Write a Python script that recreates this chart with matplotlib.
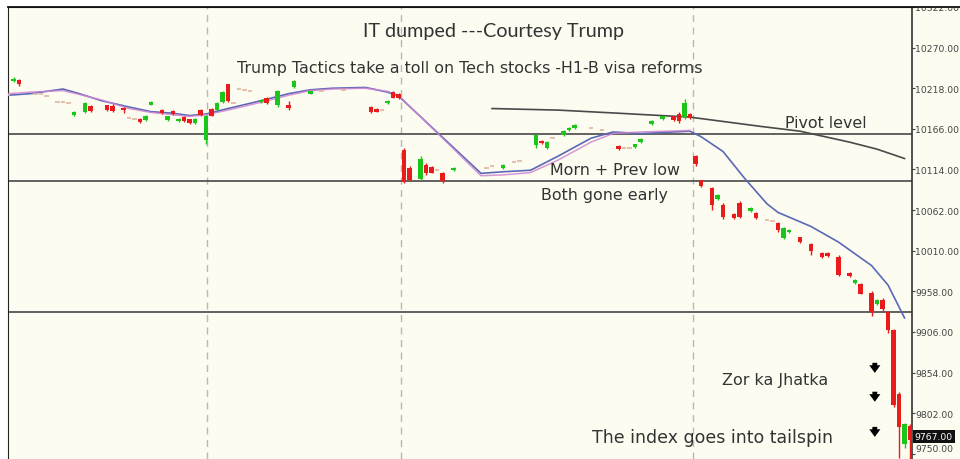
import matplotlib
matplotlib.use("Agg")
import matplotlib.pyplot as plt
from matplotlib.patches import Rectangle
from matplotlib.lines import Line2D
from matplotlib.transforms import ScaledTranslation, blended_transform_factory

# ---- 5-minute bars (bar index along the session axis) ----
bar_idx = [1, 2, 12, 14, 15, 18, 19, 21, 24, 25, 26, 28, 29, 30, 31, 32, 33, 34, 35,
           36, 37, 38, 39, 40, 46, 47, 49, 51, 52, 55, 66, 67, 69, 70, 71,
           72, 73, 75, 76, 77, 79, 81, 90, 96, 97, 98, 101, 102, 103, 111, 114, 115,
           117, 119, 121, 122, 123, 124,
           125, 126, 128, 129, 130, 132, 133, 135, 136, 140, 141, 142, 144, 146, 148,
           149, 151, 153, 154, 155, 157, 158, 159, 160, 161, 162, 163, 164]
opens = [10227, 10228, 10184, 10187, 10195, 10196, 10195, 10193, 10179, 10177, 10197,
         10190, 10177, 10189, 10176, 10181, 10178, 10174, 10190,
         10152, 10192, 10190, 10200, 10223, 10200, 10206, 10196, 10197, 10219, 10211,
         10194, 10192, 10199, 10213, 10211,
         10139, 10116, 10102, 10120, 10117, 10109, 10113, 10116, 10145, 10151, 10141,
         10158, 10164, 10167, 10144, 10143, 10149,
         10172, 10178, 10182, 10185, 10181, 10185,
         10131, 10100, 10090, 10076, 10069, 10057, 10071, 10061, 10058, 10046, 10026,
         10034, 10027, 10019, 10007,
         10007, 10002, 9982, 9968, 9967, 9956, 9942, 9947, 9932, 9909, 9826, 9762, 9786]
highs = [10232, 10230, 10189, 10201, 10197, 10197, 10198, 10194, 10180, 10184, 10202,
         10191, 10183, 10190, 10180, 10182, 10179, 10180, 10191,
         10184, 10193, 10200, 10214, 10224, 10204, 10207, 10216, 10202, 10229, 10215,
         10195, 10193, 10203, 10214, 10212,
         10141, 10118, 10131, 10122, 10118, 10111, 10117, 10121, 10160, 10152, 10150,
         10164, 10168, 10172, 10145, 10147, 10154,
         10177, 10183, 10183, 10187, 10204, 10186,
         10133, 10101, 10092, 10082, 10071, 10058, 10073, 10066, 10059, 10047, 10040,
         10038, 10028, 10020, 10008,
         10008, 10004, 9983, 9974, 9968, 9958, 9948, 9949, 9933, 9910, 9829, 9790, 9788]
lows = [10226, 10221, 10182, 10186, 10187, 10189, 10188, 10186, 10174, 10176, 10196,
        10185, 10176, 10184, 10175, 10175, 10172, 10172, 10183,
        10146, 10182, 10189, 10199, 10200, 10199, 10198, 10194, 10190, 10218, 10210,
        10186, 10187, 10198, 10205, 10204,
        10097, 10099, 10100, 10107, 10109, 10097, 10112, 10115, 10142, 10147, 10140,
        10157, 10163, 10166, 10139, 10142, 10148,
        10171, 10177, 10176, 10174, 10179, 10179,
        10119, 10092, 10062, 10075, 10050, 10051, 10052, 10060, 10051, 10034, 10025,
        10033, 10020, 10005, 10001,
        10002, 9977, 9976, 9967, 9954, 9927, 9941, 9933, 9905, 9810, 9745, 9758, 9740]
closes = [10230, 10223, 10188, 10199, 10189, 10190, 10189, 10190, 10175, 10182, 10200,
          10186, 10182, 10185, 10179, 10176, 10174, 10179, 10184,
          10182, 10183, 10199, 10213, 10202, 10203, 10199, 10215, 10193, 10227, 10214,
          10187, 10188, 10202, 10206, 10205,
          10098, 10100, 10128, 10109, 10110, 10099, 10116, 10120, 10158, 10148, 10149,
          10163, 10167, 10171, 10140, 10146, 10153,
          10176, 10182, 10177, 10176, 10199, 10180,
          10121, 10093, 10069, 10081, 10053, 10052, 10053, 10065, 10052, 10037, 10039,
          10037, 10021, 10010, 10002,
          10003, 9979, 9977, 9973, 9955, 9931, 9947, 9935, 9909, 9813, 9784, 9788, 9767]

# flat bars (open == close)
doji_idx = [0, 5, 6, 7, 9, 10, 11, 22, 23, 41, 42, 43, 44, 57, 61, 68, 78,
            87, 88, 92, 93, 99, 106, 108, 112, 113, 138, 139]
doji_px = [10209, 10211, 10210, 10208, 10201, 10200, 10199, 10180, 10178, 10199,
           10217, 10216, 10215, 10214, 10216, 10190, 10113,
           10116, 10118, 10123, 10125, 10154, 10167, 10165, 10141, 10142, 10049, 10048]

# moving averages
slow_idx = [0, 4, 10, 13, 17, 22, 26, 30, 33, 36, 40, 46, 51, 55, 59, 65, 69, 71,
            86, 90, 95, 100, 106, 110, 115, 124, 126, 130, 134, 138, 140, 146, 151,
            157, 160, 163]
slow_ma = [10209, 10211, 10217, 10211, 10202, 10194, 10188, 10186, 10183, 10185,
           10192, 10202, 10211, 10216, 10218, 10219, 10213, 10208,
           10109, 10111, 10113, 10131, 10154, 10162, 10160, 10163, 10156, 10137,
           10102, 10070, 10059, 10041, 10021, 9991, 9966, 9924]
fast_idx = [0, 4, 10, 13, 17, 22, 26, 30, 33, 36, 40, 46, 51, 55, 59, 65, 69, 71,
            86, 90, 95, 100, 106, 110, 115, 124]
fast_ma = [10211, 10213, 10215, 10210, 10203, 10192, 10187, 10184, 10182, 10184,
           10190, 10200, 10209, 10215, 10217, 10218, 10214, 10209,
           10106, 10107, 10110, 10126, 10149, 10160, 10162, 10164]

# long trend line
trend_idx = [88, 100, 111, 124, 137, 144, 153, 158, 163]
trend_val = [10192, 10190, 10186, 10181, 10169, 10163, 10149, 10140, 10128]

levels = [10160, 10099, 9932]
session_breaks = [36.2, 71.5, 124.5]
price_ticks = [9750, 9802, 9854, 9906, 9958, 10010, 10062, 10114, 10166, 10218, 10270, 10322]

# ---- figure ----
W, H = 960, 460
fig = plt.figure(figsize=(W / 100, H / 100), dpi=100, facecolor="white")
bg = "#fcfcf1"
fig.patches.append(Rectangle((912 / W, 0), 48 / W, 452 / H, transform=fig.transFigure,
                             facecolor=bg, edgecolor="none", zorder=-5))
ax = fig.add_axes([8 / W, 0, 904 / W, 452 / H])
ax.set_facecolor(bg)
ax.set_xlim(0, 164.36)
ax.set_ylim(9743.3, 10319.7)

up_col, dn_col = "#19c619", "#ea1b1b"

for sb in session_breaks:
    ax.axvline(sb, color="#b9b9b0", lw=1.0, ls=(0, (5, 4)), zorder=1)
for lv in levels:
    ax.axhline(lv, color="#555555", lw=1.3, zorder=2)

ax.plot(trend_idx, trend_val, color="#4a4a4a", lw=1.2, zorder=3)
ax.plot(slow_idx, slow_ma, color="#5b68b8", lw=1.2, zorder=3)
ax.plot(fast_idx, fast_ma, color="#cf86cf", lw=1.1, alpha=0.85, zorder=3)

ax.hlines(doji_px, [i - 0.45 for i in doji_idx], [i + 0.45 for i in doji_idx],
          color="#e0b4a2", lw=1.2, zorder=4)

cols = [up_col if c >= o else dn_col for o, c in zip(opens, closes)]
ax.vlines(bar_idx, lows, highs, color=cols, lw=1.0, zorder=4)
bottoms = [min(o, c) for o, c in zip(opens, closes)]
heights = [max(abs(c - o), 2.0) for o, c in zip(opens, closes)]
ax.bar(bar_idx, heights, bottom=bottoms, width=0.8, color=cols, linewidth=0, zorder=5)

# ---- axes styling ----
ax.spines["bottom"].set_visible(False)
ax.spines["left"].set_color("#222222")
ax.spines["top"].set_color("#222222")
ax.spines["right"].set_color("#333333")
ax.spines["right"].set_linewidth(1.2)
ax.set_xticks([])
ax.yaxis.tick_right()
ax.set_yticks(price_ticks)
ax.set_yticklabels([f"{p:.2f}" for p in price_ticks])
ax.tick_params(axis="y", direction="out", length=2, width=0.8, color="#444444",
               labelsize=6.7, labelcolor="#444444", pad=0.5)
for lab in ax.get_yticklabels():
    if lab.get_text() == "9750.00":
        lab.set_transform(lab.get_transform() + ScaledTranslation(0, 6 / 100, fig.dpi_scale_trans))

# last price tag
last = closes[-1]
trans = blended_transform_factory(ax.transAxes, ax.transData)
ax.text(1.003, last, f"{last:.2f}", transform=trans + ScaledTranslation(0, 4 / 100, fig.dpi_scale_trans),
        ha="left", va="center", fontsize=6.7, color="white", clip_on=False, zorder=10,
        bbox=dict(boxstyle="square,pad=0.2", facecolor="#111111", edgecolor="none"))

# ---- annotations ----
txt = "#333333"
note = 11.4
ax.text(88.2, 10292, "IT dumped ---Courtesy Trump", ha="center", va="center",
        fontsize=14.2, family="Lato", color=txt)
ax.text(84, 10244, "Trump Tactics take a toll on Tech stocks -H1-B visa reforms",
        ha="center", va="center", fontsize=note, color=txt)
ax.text(148.7, 10174, "Pivot level", ha="center", va="center", fontsize=note, color=txt)
ax.text(110.4, 10114, "Morn + Prev low", ha="center", va="center", fontsize=note, color=txt)
ax.text(108.5, 10082, "Both gone early", ha="center", va="center", fontsize=note, color=txt)
ax.text(139.5, 9845, "Zor ka Jhatka", ha="center", va="center", fontsize=note, color=txt)
ax.text(128, 9772, "The index goes into tailspin", ha="center", va="center",
        fontsize=12.5, color=txt)
for tail, tip in [(9870, 9850), (9833, 9813), (9788, 9768)]:
    ax.annotate("", xy=(157.6, tip), xytext=(157.6, tail),
                arrowprops=dict(arrowstyle="simple,head_width=0.8,head_length=0.55,tail_width=0.35",
                                color="black", lw=0))

# white outer margin and frame
fig.patches.append(Rectangle((0, 452 / H), 1, 8 / H, transform=fig.transFigure,
                             facecolor="white", edgecolor="none", zorder=20))
fig.lines.append(Line2D([8 / W, 1], [452 / H, 452 / H], transform=fig.transFigure,
                        color="#111111", lw=1.3, zorder=21))

fig.savefig("out.png", dpi=100, facecolor=fig.get_facecolor())
